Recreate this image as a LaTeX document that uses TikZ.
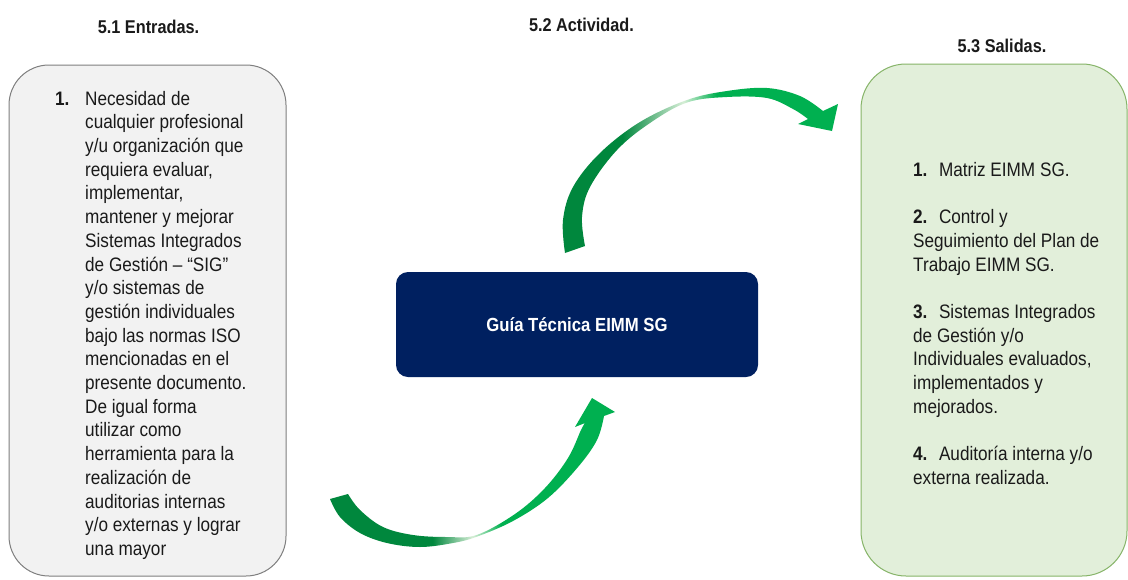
\documentclass[tikz,border=0pt]{standalone}
\usepackage{fontspec}
\setmainfont[FakeStretch=0.88]{Liberation Sans}
\definecolor{navy}{HTML}{002060}
\definecolor{grayfill}{HTML}{F2F2F2}
\definecolor{grayline}{HTML}{7F7F7F}
\definecolor{greenfill}{HTML}{E2EFDA}
\definecolor{greenline}{HTML}{86B468}
\definecolor{gdark}{HTML}{00873D}
\definecolor{gbright}{HTML}{00B050}
\definecolor{glight}{HTML}{D6EED6}
\definecolor{txt}{HTML}{1A1A1A}
\pgfdeclarehorizontalshading{toparrow}{100bp}{color(0bp)=(gdark); color(36bp)=(gdark); color(47bp)=(glight); color(53bp)=(gbright); color(100bp)=(gbright)}
\pgfdeclarehorizontalshading{botarrow}{100bp}{color(0bp)=(gdark); color(43bp)=(gdark); color(50bp)=(glight); color(55bp)=(gbright); color(100bp)=(gbright)}
\begin{document}
\begin{tikzpicture}[x=1pt,y=-1pt,
  title/.style={font=\fontsize{18.5}{22}\selectfont\bfseries, text=txt, inner sep=0},
  body/.style={font=\fontsize{19.5}{23.7}\selectfont, text=txt, inner sep=0, align=left},
  inbox/.style={draw=grayline, line width=1pt, fill=grayfill, rounded corners=40pt},
  outbox/.style={draw=greenline, line width=1pt, fill=greenfill, rounded corners=45pt},
  actbox/.style={fill=navy, rounded corners=12pt}]
\useasboundingbox (0,0) rectangle (1128,579);
\fill[white] (0,0) rectangle (1128,579);
% titles
\node[title] (t1) at (148.5,27) {5.1 Entradas.};
\node[title] (t2) at (581.5,25) {5.2 Actividad.};
\node[title] (t3) at (1002,46) {5.3 Salidas.};
% boxes
\draw[inbox] (9,65) rectangle (286,576);
\coordinate (inbox) at (147.5,320);
\draw[outbox] (861,64) rectangle (1127,576);
\coordinate (outbox) at (994,320);
\fill[actbox] (396,272) rectangle (758,377);
\node[font=\fontsize{19}{22}\selectfont\bfseries, text=white, inner sep=0] (act) at (577,325) {Guía Técnica EIMM SG};
% left text
\node[body, anchor=base west, font=\fontsize{19.5}{23.7}\selectfont\bfseries] (n1) at (55,105) {1.};
\node[body, anchor=north west] (intext) at (85,90.8) {Necesidad de\\
cualquier profesional\\
y/u organización que\\
requiera evaluar,\\
implementar,\\
mantener y mejorar\\
Sistemas Integrados\\
de Gestión – “SIG”\\
y/o sistemas de\\
gestión individuales\\
bajo las normas ISO\\
mencionadas en el\\
presente documento.\\
De igual forma\\
utilizar como\\
herramienta para la\\
realización de\\
auditorias internas\\
y/o externas y lograr\\
una mayor};
% right text
\node[body, anchor=north west] (outtext) at (913,161.8) {\textbf{1.}\hspace{11.5pt}Matriz EIMM SG.\\[23.8pt]
\textbf{2.}\hspace{11.5pt}Control y\\
Seguimiento del Plan de\\
Trabajo EIMM SG.\\[23.8pt]
\textbf{3.}\hspace{11.5pt}Sistemas Integrados\\
de Gestión y/o\\
Individuales evaluados,\\
implementados y\\
mejorados.\\[23.8pt]
\textbf{4.}\hspace{11.5pt}Auditoría interna y/o\\
externa realizada.};
% top arrow (activity -> outputs)
\coordinate (toptip) at (832,131);
\shade[shading=toparrow]
  plot[smooth, tension=0.6] coordinates {(565,253) (563,220) (573,187) (600,153) (640,122) (687,100) (727,91) (767,88) (800,96) (823,111)}
  -- (838,104) -- (toptip) -- (798,124)
  -- plot[smooth, tension=0.6] coordinates {(808,119) (793,109) (767,98) (727,97) (687,102.5) (650,123) (617,150) (590,187) (582,217) (585,246)}
  -- cycle;
% bottom arrow (inputs -> activity)
\coordinate (bottip) at (592,398);
\shade[shading=botarrow]
  plot[smooth, tension=0.6] coordinates {(330,499) (340,517) (360,533) (387,543) (420,547) (453,543) (476.7,536.7) (513,521) (548,498) (578,467) (597,440) (604,416)}
  -- (615,412) -- (bottip) -- (575,427)
  -- plot[smooth, tension=0.6] coordinates {(585,423) (581,430) (568,458) (545,488) (515,514) (476.7,535) (447,537) (413,535) (383,527) (360,510) (348,494)}
  -- cycle;
\end{tikzpicture}
\end{document}
